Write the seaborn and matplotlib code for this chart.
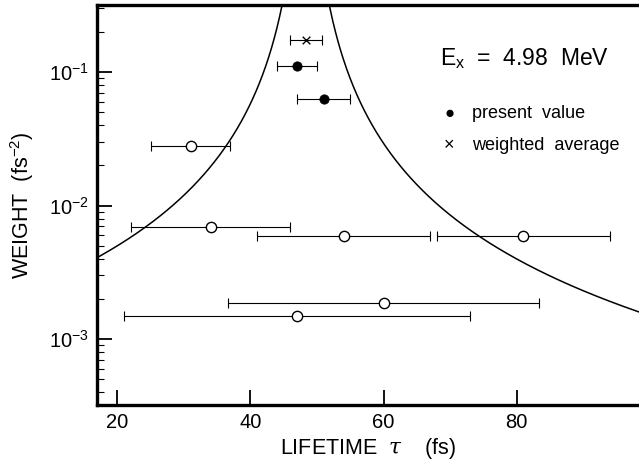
import numpy as np
import pandas as pd
import matplotlib
matplotlib.use("Agg")
import matplotlib.pyplot as plt
import seaborn as sns

# Literature lifetimes (open circles): tau, uncertainty, weight = 1/sigma^2
lit_tau = [31, 34, 54, 81, 60, 47]
lit_err = [6, 12, 13, 13, 23.3, 26]
lit_weight = [0.0278, 0.00694, 0.0059, 0.0059, 0.00185, 0.00148]

# Present measurements (filled circles)
present_tau = [47, 51]
present_err = [3, 4]
present_weight = [0.111, 0.0625]

# Weighted average (cross)
avg_tau = [48.3]
avg_err = [2.4]
avg_weight = [0.174]

x_ticks = [20, 40, 60, 80]
y_ticks = [1e-3, 1e-2, 1e-1]
y_tick_labels = [r"$10^{-3}$", r"$10^{-2}$", r"$10^{-1}$"]

sns.set_style("ticks")
plt.rcParams["font.family"] = ["Liberation Sans", "DejaVu Sans"]
plt.rcParams["mathtext.fontset"] = "custom"
plt.rcParams["mathtext.rm"] = "Liberation Sans"
plt.rcParams["mathtext.it"] = "DejaVu Serif:italic"
for key in ("text.color", "axes.labelcolor", "xtick.color", "ytick.color"):
    plt.rcParams[key] = "black"

fig = plt.figure(figsize=(6.39, 4.63), dpi=100)
ax = fig.add_axes([0.1518, 0.1253, 0.848, 0.8637])

# Boundary where a value deviates from the average by 2 sigma: w = 4/(tau - tau_avg)^2
tau_left = np.linspace(16.0, avg_tau[0] - 0.5, 400)
tau_right = np.linspace(avg_tau[0] + 0.5, 100.0, 400)
for t in (tau_left, tau_right):
    curve = pd.DataFrame({"tau": t, "w": 4.0 / (t - avg_tau[0]) ** 2})
    sns.lineplot(data=curve, x="tau", y="w", ax=ax, color="black", lw=1.1,
                 sort=False, estimator=None)

err_kw = dict(fmt="none", ecolor="black", elinewidth=0.8, capsize=3.5,
              capthick=0.8, zorder=2)
ax.errorbar(lit_tau, lit_weight, xerr=lit_err, **err_kw)
ax.errorbar(present_tau, present_weight, xerr=present_err, **err_kw)
ax.errorbar(avg_tau, avg_weight, xerr=avg_err, **err_kw)

sns.scatterplot(x=lit_tau, y=lit_weight, ax=ax, marker="o", s=55,
                facecolor="white", edgecolor="black", linewidth=1.0, zorder=3)
sns.scatterplot(x=present_tau, y=present_weight, ax=ax, marker="o", s=45,
                color="black", edgecolor="black", zorder=3)
sns.scatterplot(x=avg_tau, y=avg_weight, ax=ax, marker="x", s=30,
                color="black", linewidth=1.0, zorder=3)

ax.set_yscale("log")
ax.set_xlim(16.95, 98.35)
ax.set_ylim(10 ** -3.494, 10 ** -0.498)

ax.set_xticks(x_ticks)
ax.set_xticklabels([str(v) for v in x_ticks])
ax.set_yticks(y_ticks)
ax.set_yticklabels(y_tick_labels)
ax.xaxis.set_minor_locator(matplotlib.ticker.NullLocator())
ax.yaxis.set_minor_locator(matplotlib.ticker.LogLocator(base=10, subs=np.arange(2, 10)))
ax.yaxis.set_minor_formatter(matplotlib.ticker.NullFormatter())

ax.tick_params(axis="both", which="major", direction="in", length=11, width=1.3,
               labelsize=14.5, pad=6, top=False, right=False)
ax.tick_params(axis="y", which="minor", direction="in", length=5, width=0.8,
               right=False)

for side in ("left", "bottom", "top"):
    ax.spines[side].set_linewidth(2.4)
    ax.spines[side].set_color("black")
ax.spines["right"].set_visible(False)

ax.set_xlabel(r"LIFETIME  $\mathit{\tau}$    (fs)", fontsize=15.5, labelpad=3)
ax.set_ylabel(r"WEIGHT  (fs$^{-2}$)", fontsize=15.5, labelpad=9)

ax.text(0.633, 0.866, r"E$_{\rm x}$  =  4.98  MeV", transform=ax.transAxes,
        fontsize=16.5, va="center", ha="left")
ax.text(0.650, 0.728, "●", transform=ax.transAxes, fontsize=12,
        va="center", ha="center")
ax.text(0.692, 0.728, "present  value", transform=ax.transAxes,
        fontsize=13, va="center", ha="left")
ax.text(0.650, 0.648, "×", transform=ax.transAxes, fontsize=13,
        va="center", ha="center")
ax.text(0.692, 0.648, "weighted  average", transform=ax.transAxes,
        fontsize=13, va="center", ha="left")

fig.savefig("out.png", dpi=100)
